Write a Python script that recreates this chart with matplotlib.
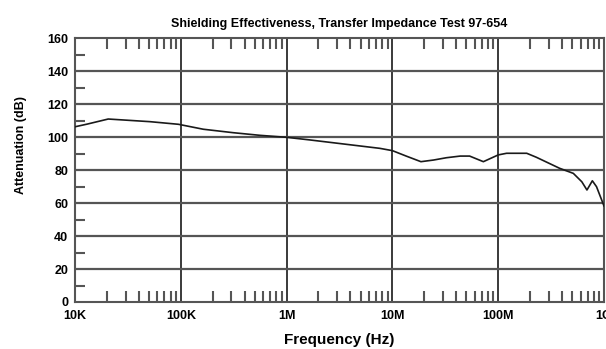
import matplotlib.pyplot as plt
from matplotlib.ticker import LogLocator, FixedLocator, NullFormatter

plt.rcParams['font.family'] = ['Liberation Sans', 'DejaVu Sans']

# Measured shielding attenuation vs frequency
freq_hz = [1.0e4, 1.3e4, 2.06e4, 5.1e4, 9.5e4, 1.63e5, 3.13e5, 5.6e5, 1.0e6, 1.66e6,
           7.6e6, 1.0e7, 1.35e7, 1.86e7, 2.45e7, 3.24e7, 4.37e7, 5.37e7, 7.24e7,
           1.0e8, 1.2e8, 1.86e8, 2.29e8, 3.8e8, 5.13e8, 6.17e8, 6.9e8, 7.76e8,
           8.5e8, 1.0e9]
atten_db = [106.4, 108.0, 111.1, 109.5, 107.9, 104.9, 102.8, 101.2, 100.0, 98.4,
            93.3, 91.9, 88.6, 85.2, 86.2, 87.6, 88.6, 88.6, 85.2,
            89.3, 90.3, 90.3, 87.9, 81.2, 78.1, 73.0, 68.0, 73.6,
            70.0, 58.3]

x_ticks = [1e4, 1e5, 1e6, 1e7, 1e8, 1e9]
x_labels = ['10K', '100K', '1M', '10M', '100M', '1G']
y_ticks = [0, 20, 40, 60, 80, 100, 120, 140, 160]

fig = plt.figure(figsize=(6.06, 3.49), dpi=100)
ax = fig.add_axes([0.1238, 0.1347, 0.8729, 0.755])

ax.set_xscale('log')
ax.set_xlim(1e4, 1e9)
ax.set_ylim(0, 160)

# grid at decades and every 20 dB
for xt in x_ticks[1:-1]:
    ax.axvline(xt, color='#3a3a3a', lw=1.4, zorder=1)
for yt in y_ticks[1:-1]:
    ax.axhline(yt, color='#555555', lw=1.6, zorder=1)

ax.plot(freq_hz, atten_db, color='#1a1a1a', lw=1.2, zorder=3)

ax.set_xticks(x_ticks)
ax.set_xticklabels(x_labels)
ax.xaxis.set_minor_locator(LogLocator(base=10, subs=range(2, 10)))
ax.xaxis.set_minor_formatter(NullFormatter())
ax.set_yticks(y_ticks)
ax.yaxis.set_minor_locator(FixedLocator(range(10, 160, 20)))

ax.tick_params(axis='both', which='major', length=0, labelsize=9, pad=5)
ax.tick_params(axis='x', which='minor', direction='in', length=8, width=1.5,
               color='#555555', top=True, bottom=True)
ax.tick_params(axis='y', which='minor', direction='in', length=7, width=1.5,
               color='#555555', left=True, right=False)
ax.tick_params(axis='x', which='major', pad=6)
for lbl in ax.get_xticklabels() + ax.get_yticklabels():
    lbl.set_fontweight('bold')

for s in ax.spines.values():
    s.set_color('#555555')
    s.set_linewidth(1.5)

ax.set_title('Shielding Effectiveness, Transfer Impedance Test 97-654',
             fontsize=9, fontweight='bold', pad=8)
fig.text(0.56, 0.026, 'Frequency (Hz)', fontsize=11, fontweight='bold',
         ha='center', va='center')
fig.text(0.035, 0.585, 'Attenuation (dB)', fontsize=9, fontweight='bold',
         rotation=90, ha='center', va='center')

plt.savefig('out.png', dpi=100)
